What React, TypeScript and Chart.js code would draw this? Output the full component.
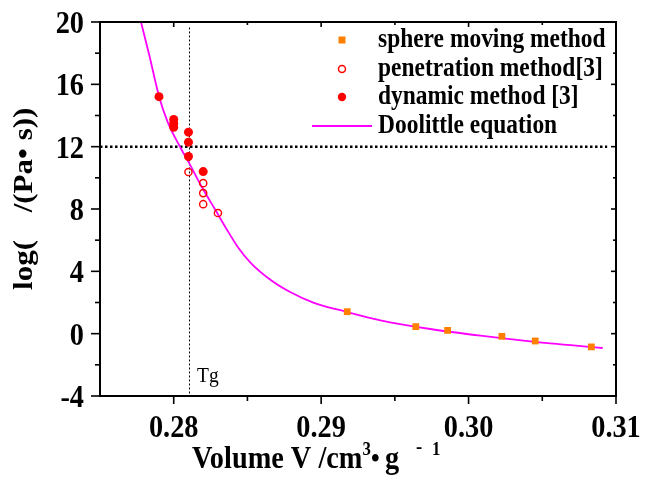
import { useEffect, useRef } from 'react';
import { Chart, registerables } from 'chart.js';

Chart.register(...registerables);

// ---- data ----
const sphereV = [0.29177, 0.29642, 0.29858, 0.30226, 0.30452, 0.30833];
const sphereLog = [1.41, 0.45, 0.21, -0.17, -0.47, -0.85];

const penV = [0.281, 0.282, 0.282, 0.282, 0.283];
const penLog = [10.37, 9.66, 9.02, 8.31, 7.74];

const dynV = [0.279, 0.28, 0.28, 0.28, 0.281, 0.281, 0.281, 0.282];
const dynLog = [15.21, 13.75, 13.49, 13.24, 12.93, 12.29, 11.37, 10.4];

const fitV = [
  0.27778, 0.27834, 0.27901, 0.27958, 0.28048, 0.28105, 0.28189, 0.28285, 0.28353,
  0.28432, 0.28522, 0.28658, 0.28793, 0.28951, 0.29177, 0.29402, 0.29741, 0.3008,
  0.30418, 0.3091,
];
const fitLog = [
  20.0, 17.88, 15.21, 13.61, 11.9, 10.94, 9.44, 7.9, 6.8,
  5.6, 4.55, 3.45, 2.66, 1.98, 1.39, 0.86, 0.3, -0.13,
  -0.49, -0.92,
];

const tgV = 0.28107;
const tgLogRange = [19.65, -4];
const refLog = 12;
const refVRange = [0.275, 0.3094];

const xMajor = [0.28, 0.29, 0.3, 0.31];
const xMajorLabels = ['0.28', '0.29', '0.30', '0.31'];
const xMinor = [0.285, 0.295, 0.305];
const yMajor = [-4, 0, 4, 8, 12, 16, 20];
const yMajorLabels = ['-4', '0', '4', '8', '12', '16', '20'];
const yMinor = [-2, 2, 6, 10, 14, 18];

const legendLabels = [
  'sphere moving method',
  'penetration method[3]',
  'dynamic method [3]',
  'Doolittle equation',
];

const ORANGE = '#FF8000';
const RED = '#FF0000';
const MAGENTA = '#FF00FF';
const SERIF = '"Liberation Serif", "Times New Roman", serif';
const SX = 0.885;

function drawText(
  ctx: CanvasRenderingContext2D,
  s: string,
  x: number,
  y: number,
  size: number,
  bold: boolean,
  align: CanvasTextAlign = 'left',
  rot = false
) {
  ctx.save();
  ctx.translate(x, y);
  if (rot) {
    ctx.rotate(-Math.PI / 2);
    ctx.scale(1, SX);
  } else {
    ctx.scale(SX, 1);
  }
  ctx.font = `${bold ? 'bold ' : ''}${size}px ${SERIF}`;
  ctx.textAlign = align;
  ctx.textBaseline = 'alphabetic';
  ctx.fillStyle = '#000';
  ctx.fillText(s, 0, 0);
  ctx.restore();
}

const decor = {
  id: 'decor',
  afterDraw(chart: any) {
    const ctx: CanvasRenderingContext2D = chart.ctx;
    const a = chart.chartArea;
    const xs = chart.scales.x;
    const ys = chart.scales.y;
    ctx.save();
    ctx.strokeStyle = '#000';
    ctx.lineWidth = 2;
    ctx.setLineDash([]);
    ctx.strokeRect(a.left, a.top, a.right - a.left, a.bottom - a.top);

    ctx.lineWidth = 1.6;
    const line = (x1: number, y1: number, x2: number, y2: number) => {
      ctx.beginPath();
      ctx.moveTo(x1, y1);
      ctx.lineTo(x2, y2);
      ctx.stroke();
    };
    xMajor.forEach((v) => {
      const px = xs.getPixelForValue(v);
      line(px, a.bottom, px, a.bottom + 8);
      line(px, a.top, px, a.top + 5);
    });
    xMinor.forEach((v) => {
      const px = xs.getPixelForValue(v);
      line(px, a.bottom, px, a.bottom + 5);
      line(px, a.top, px, a.top + 3);
    });
    yMajor.forEach((v) => {
      const py = ys.getPixelForValue(v);
      line(a.left - 9, py, a.left, py);
      line(a.right - 5, py, a.right, py);
    });
    yMinor.forEach((v) => {
      const py = ys.getPixelForValue(v);
      line(a.left - 5, py, a.left, py);
      line(a.right - 3, py, a.right, py);
    });

    // tick labels
    xMajor.forEach((v, i) => {
      drawText(ctx, xMajorLabels[i], xs.getPixelForValue(v), a.bottom + 41, 32, true, 'center');
    });
    yMajor.forEach((v, i) => {
      drawText(ctx, yMajorLabels[i], a.left - 16, ys.getPixelForValue(v) + 11, 32, true, 'right');
    });

    // axis titles
    drawText(ctx, 'Volume V /cm', 192, 468, 32, true);
    drawText(ctx, '3', 362.5, 455, 19, true);
    drawText(ctx, '\u2022', 371, 467, 28, true);
    drawText(ctx, 'g', 385, 468, 32, true);
    drawText(ctx, '-', 416, 453, 21, true);
    drawText(ctx, '1', 432, 455, 19, true);

    drawText(ctx, 'log(', 32, 265, 31, true, 'center', true);
    drawText(ctx, '/(Pa\u2022 s))', 32, 160, 31, true, 'center', true);

    // Tg label
    drawText(ctx, 'Tg', 197, 382, 22, false);

    // legend
    const lx = 342;
    const rows = [40, 69, 97, 126];
    ctx.fillStyle = ORANGE;
    ctx.fillRect(lx - 3.5, rows[0] - 3.5, 7, 7);
    ctx.strokeStyle = RED;
    ctx.lineWidth = 1.5;
    ctx.beginPath();
    ctx.arc(lx, rows[1], 3.5, 0, Math.PI * 2);
    ctx.stroke();
    ctx.fillStyle = RED;
    ctx.beginPath();
    ctx.arc(lx, rows[2], 4.2, 0, Math.PI * 2);
    ctx.fill();
    ctx.strokeStyle = MAGENTA;
    ctx.lineWidth = 2;
    line(312, rows[3], 372, rows[3]);
    const bases = [47, 75.5, 104, 133];
    legendLabels.forEach((t, i) => drawText(ctx, t, 378, bases[i], 26.5, true));
    ctx.restore();
  },
};

export default function App() {
  const ref = useRef<HTMLCanvasElement | null>(null);
  useEffect(() => {
    if (!ref.current) return;
    const chart = new Chart(ref.current, {
      type: 'scatter',
      data: {
        datasets: [
          {
            label: legendLabels[0],
            data: sphereV.map((v, i) => ({ x: v, y: sphereLog[i] })),
            pointStyle: 'rect',
            pointRadius: 4.8,
            backgroundColor: ORANGE,
            borderColor: ORANGE,
            borderWidth: 0,
            showLine: false,
            order: 0,
          },
          {
            label: legendLabels[1],
            data: penV.map((v, i) => ({ x: v, y: penLog[i] })),
            pointStyle: 'circle',
            pointRadius: 3.6,
            backgroundColor: 'rgba(0,0,0,0)',
            borderColor: RED,
            borderWidth: 1.4,
            showLine: false,
            order: 0,
          },
          {
            label: legendLabels[2],
            data: dynV.map((v, i) => ({ x: v, y: dynLog[i] })),
            pointStyle: 'circle',
            pointRadius: 4.5,
            backgroundColor: RED,
            borderColor: RED,
            borderWidth: 0,
            showLine: false,
            order: 0,
          },
          {
            label: legendLabels[3],
            data: fitV.map((v, i) => ({ x: v, y: fitLog[i] })),
            showLine: true,
            borderColor: MAGENTA,
            borderWidth: 1.8,
            pointRadius: 0,
            cubicInterpolationMode: 'monotone',
            order: 1,
          },
          {
            label: 'Tg',
            data: tgLogRange.map((y) => ({ x: tgV, y })),
            showLine: true,
            borderColor: '#000',
            borderWidth: 1,
            borderDash: [2, 2],
            pointRadius: 0,
            order: 2,
          },
          {
            label: 'ref',
            data: refVRange.map((x) => ({ x, y: refLog })),
            showLine: true,
            borderColor: '#000',
            borderWidth: 2.5,
            borderDash: [2.5, 2.5],
            pointRadius: 0,
            order: 2,
          },
        ],
      },
      options: {
        responsive: false,
        animation: false,
        devicePixelRatio: 1,
        layout: { padding: { top: 22, right: 40, left: 0, bottom: 0 } },
        plugins: { legend: { display: false }, tooltip: { enabled: false } },
        scales: {
          x: {
            type: 'linear',
            min: 0.275,
            max: 0.31,
            ticks: { display: false },
            grid: { display: false },
            border: { display: false },
            afterFit: (s: any) => {
              s.height = 81;
            },
          },
          y: {
            type: 'linear',
            min: -4,
            max: 20,
            ticks: { display: false },
            grid: { display: false },
            border: { display: false },
            afterFit: (s: any) => {
              s.width = 100;
            },
          },
        },
      },
      plugins: [decor],
    } as any);
    return () => chart.destroy();
  }, []);
  return (
    <div style={{ position: 'absolute', left: 0, top: 0, width: 656, height: 477, background: '#fff' }}>
      <canvas ref={ref} width={656} height={477} />
    </div>
  );
}
